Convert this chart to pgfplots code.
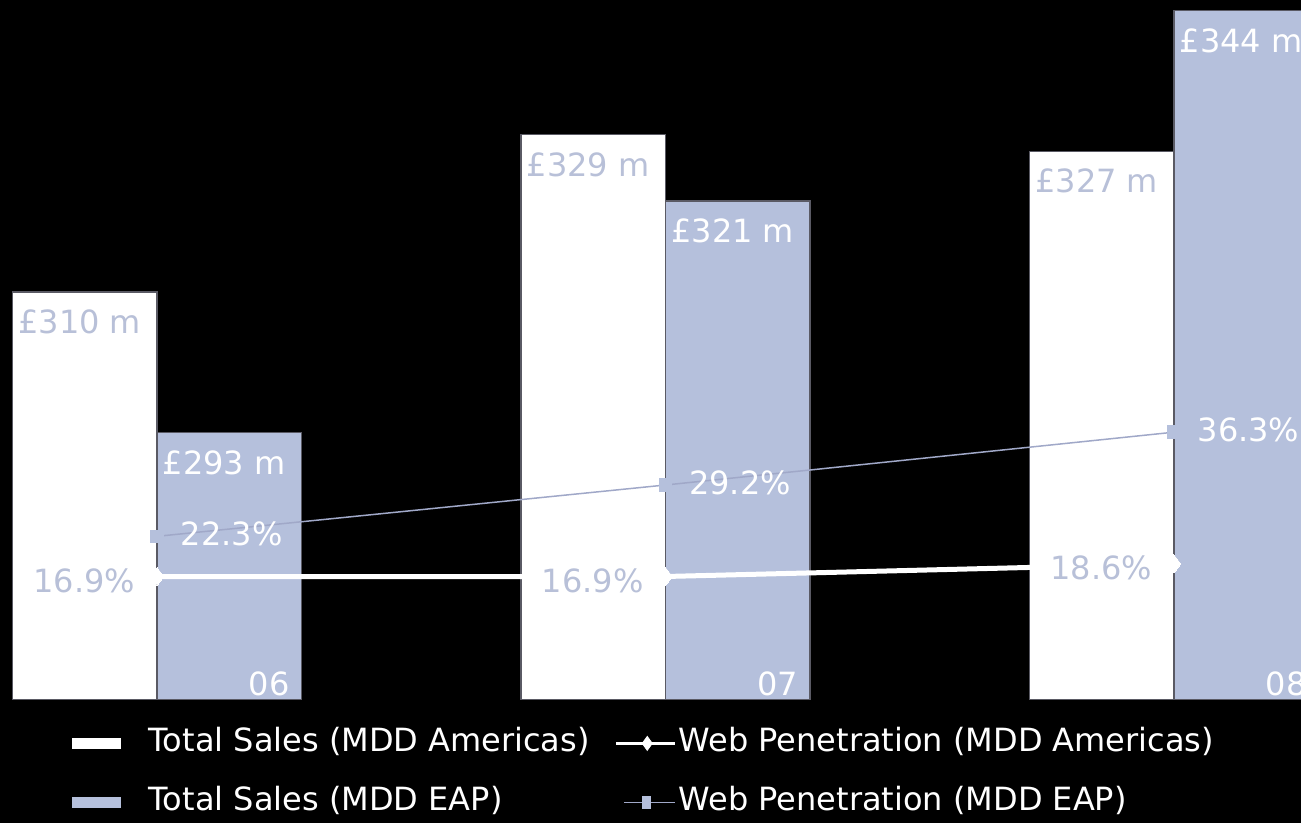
\documentclass[border=0pt]{standalone}
\usepackage{pgfplots}
\pgfplotsset{compat=1.18}
\usepackage{pgfplotstable}
\usepackage{fontspec}
\setmainfont{DejaVu Sans}
\definecolor{lav}{RGB}{181,192,220}
\definecolor{lavtxt}{RGB}{184,192,216}
\definecolor{lavline}{RGB}{160,168,200}
\definecolor{edge}{RGB}{90,90,100}
\newcommand{\lblfont}{\fontsize{16}{19}\selectfont}

\pgfplotstableread{
x sales pen
0 310 16.9
1 329 16.9
2 327 18.6
}\americas
\pgfplotstableread{
x sales pen
0 293 22.3
1 321 29.2
2 344 36.3
}\eap

\begin{document}
\begin{tikzpicture}
\path[use as bounding box] (0,0) rectangle (650.5pt,411.5pt);
\fill[black] (0,0) rectangle (650.5pt,411.5pt);
\clip (0,0) rectangle (650.5pt,411.5pt);
\begin{axis}[
  at={(0pt,61.5pt)}, anchor=south west,
  width=650.5pt, height=350pt, scale only axis,
  xmin=-0.3088, xmax=2.2498, ymin=260.7, ymax=345.3,
  axis on top,
  axis line style={draw=none},
  ytick=\empty,
  xtick={0,1,2}, xticklabels={06,07,08},
  major tick length=0pt,
  xticklabel style={anchor=south east, inner sep=0pt, xshift=66.5pt, yshift=2pt, text=white, font=\lblfont},
  /pgf/number format/assume math mode=true,
  bar width=72.25pt,
  legend columns=2,
  legend style={at={(axis description cs:0.05534,-0.037)}, anchor=north west,
    draw=none, fill=none, inner sep=0pt, outer sep=0pt, text=white, font=\lblfont,
    cells={anchor=west}, nodes={inner sep=1pt, text height=12pt, text depth=3.5pt},
    row sep=12pt, /tikz/every even column/.append style={column sep=11.5pt}},
]
\addplot[ybar, bar shift=-36.125pt, fill=white, draw=edge, line width=0.6pt, forget plot,
  nodes near coords={£\pgfmathprintnumber{\pgfplotspointmeta} m},
  nodes near coords style={anchor=north west, inner sep=0pt, xshift=-69.6pt, yshift=-8.5pt, text=lavtxt, font=\lblfont}]
  table[x=x,y=sales]{\americas};
\addplot[ybar, bar shift=36.125pt, fill=lav, draw=edge, line width=0.6pt, forget plot,
  nodes near coords={£\pgfmathprintnumber{\pgfplotspointmeta} m},
  nodes near coords style={anchor=north west, inner sep=0pt, xshift=2.6pt, yshift=-8.5pt, text=white, font=\lblfont}]
  table[x=x,y=sales]{\eap};
\addlegendimage{legend image code/.code={\fill[white] (0pt,-2.5pt) rectangle (24pt,2.5pt); \path (37pt,0pt);}}
\addlegendentry{Total Sales (MDD Americas)}
\addlegendimage{legend image code/.code={\draw[white, line width=1.5pt] (0pt,0pt) -- (29.5pt,0pt);
  \fill[white] (15.5pt,3.5pt) -- (18pt,0pt) -- (15.5pt,-3.5pt) -- (13pt,0pt) -- cycle;}}
\addlegendentry{Web Penetration (MDD Americas)}
\addlegendimage{legend image code/.code={\fill[lav] (0pt,-2.5pt) rectangle (24pt,2.5pt); \path (37pt,0pt);}}
\addlegendentry{Total Sales (MDD EAP)}
\addlegendimage{legend image code/.code={\draw[lavline, line width=0.75pt] (4pt,0pt) -- (29.5pt,0pt);
  \fill[lav] (13pt,-3pt) rectangle (17pt,3pt);}}
\addlegendentry{Web Penetration (MDD EAP)}
\end{axis}
\begin{axis}[
  at={(0pt,61.5pt)}, anchor=south west,
  width=650.5pt, height=350pt, scale only axis,
  xmin=-0.3088, xmax=2.2498, ymin=0.3, ymax=94.4,
  hide axis, clip=false,
  /pgf/number format/assume math mode=true,
]
\addplot[lavline, line width=0.75pt, mark=square*, mark size=3pt, mark options={solid, fill=lav, draw=lav},
  nodes near coords={\pgfmathprintnumber[fixed,precision=1,fixed zerofill]{\pgfplotspointmeta}\%},
  nodes near coords style={anchor=west, inner sep=0pt, xshift=11.5pt, yshift=1pt, text=white, font=\lblfont}]
  table[x=x,y=pen]{\eap};
\addplot[white, line width=2.5pt, mark=diamond*, mark size=4.5pt, mark options={solid, line width=0pt},
  nodes near coords={\pgfmathprintnumber[fixed,precision=1,fixed zerofill]{\pgfplotspointmeta}\%},
  nodes near coords style={anchor=east, inner sep=0pt, xshift=-11pt, yshift=-2pt, text=lavtxt, font=\lblfont}]
  table[x=x,y=pen]{\americas};
\end{axis}
\end{tikzpicture}
\end{document}
